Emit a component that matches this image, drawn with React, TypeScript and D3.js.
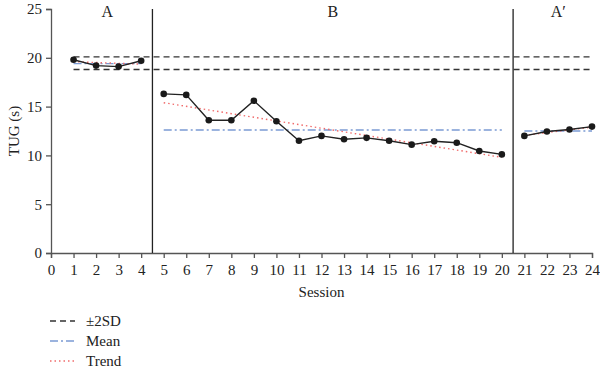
import React, { useEffect, useRef } from "react";
import * as d3 from "d3";

// session numbers and TUG times (s)
const sessions = [1, 2, 3, 4, 5, 6, 7, 8, 9, 10, 11, 12, 13, 14, 15, 16, 17, 18, 19, 20, 21, 22, 23, 24];
const tug = [19.8, 19.2, 19.1, 19.7, 16.3, 16.2, 13.6, 13.6, 15.6, 13.5, 11.5, 12.0, 11.65, 11.8, 11.5, 11.1, 11.45, 11.3, 10.45, 10.1, 12.0, 12.45, 12.65, 12.95];

// phases: label, first and last session
const phaseNames = ["A", "B", "A\u2032"];
const phaseStart = [1, 5, 21];
const phaseEnd = [4, 20, 24];
const phaseMean = [19.4, 12.6, 12.5];
const trendStart = [19.6, 15.4, 12.05];
const trendEnd = [19.35, 9.8, 12.9];

// baseline ±2SD band
const sdUpper = 20.1;
const sdLower = 18.8;

const xTicks = d3.range(0, 25);
const yTicks = [0, 5, 10, 15, 20, 25];

const legendLabels = ["\u00b12SD", "Mean", "Trend"];

const App = () => {
  const ref = useRef<SVGSVGElement>(null);

  useEffect(() => {
    const width = 600;
    const height = 374;
    const margin = { top: 9, right: 8, bottom: 121, left: 51 };
    const font = "'Liberation Serif', 'Times New Roman', serif";

    const svg = d3.select(ref.current);
    svg.selectAll("*").remove();

    const x = d3.scaleLinear().domain([0, 24]).range([margin.left, width - margin.right]);
    const y = d3.scaleLinear().domain([0, 25]).range([height - margin.bottom, margin.top]);

    const styles = {
      sd: { color: "#333", dash: "6,4", width: 1.3 },
      mean: { color: "#7b9bd3", dash: "8,3,2,3", width: 1.3 },
      trend: { color: "#f06b6b", dash: "1.5,3", width: 1.4 },
    };

    // axes
    const xAxis = svg.append("g")
      .attr("transform", `translate(0,${y(0)})`)
      .call(d3.axisBottom(x).tickValues(xTicks).tickSize(5).tickFormat(d3.format("d")));
    const yAxis = svg.append("g")
      .attr("transform", `translate(${x(0)},0)`)
      .call(d3.axisLeft(y).tickValues(yTicks).tickSize(5));
    [xAxis, yAxis].forEach(a => {
      a.select(".domain").attr("stroke", "#555").attr("stroke-width", 1.3);
      a.selectAll(".tick line").attr("stroke", "#555").attr("stroke-width", 1.3);
      a.selectAll(".tick text").attr("font-family", font).attr("font-size", 15).attr("fill", "#222");
    });
    xAxis.selectAll(".tick text").attr("dy", "0.95em");
    yAxis.selectAll(".tick text").attr("x", -9);

    // phase change lines
    [4.5, 20.5].forEach(v => {
      svg.append("line")
        .attr("x1", x(v)).attr("x2", x(v))
        .attr("y1", y(25)).attr("y2", y(0))
        .attr("stroke", "#222").attr("stroke-width", 1.3);
    });

    phaseNames.forEach((name, i) => {
      svg.append("text")
        .attr("x", x((phaseStart[i] + phaseEnd[i]) / 2))
        .attr("y", y(24.2))
        .attr("text-anchor", "middle")
        .attr("font-family", font).attr("font-size", 16).attr("fill", "#222")
        .text(name);
    });

    // ±2SD lines
    [sdUpper, sdLower].forEach(v => {
      svg.append("line")
        .attr("x1", x(1)).attr("x2", x(24))
        .attr("y1", y(v)).attr("y2", y(v))
        .attr("stroke", styles.sd.color).attr("stroke-width", styles.sd.width)
        .attr("stroke-dasharray", styles.sd.dash);
    });

    // phase means and trends
    phaseNames.forEach((_, i) => {
      svg.append("line")
        .attr("x1", x(phaseStart[i])).attr("x2", x(phaseEnd[i]))
        .attr("y1", y(phaseMean[i])).attr("y2", y(phaseMean[i]))
        .attr("stroke", styles.mean.color).attr("stroke-width", styles.mean.width)
        .attr("stroke-dasharray", styles.mean.dash);
      svg.append("line")
        .attr("x1", x(phaseStart[i])).attr("x2", x(phaseEnd[i]))
        .attr("y1", y(trendStart[i])).attr("y2", y(trendEnd[i]))
        .attr("stroke", styles.trend.color).attr("stroke-width", styles.trend.width)
        .attr("stroke-dasharray", styles.trend.dash);
    });

    // data series, broken at phase changes
    const line = d3.line<number>().x(d => x(d)).y(d => y(tug[d - 1]));
    phaseNames.forEach((_, i) => {
      const pts = sessions.filter(s => s >= phaseStart[i] && s <= phaseEnd[i]);
      svg.append("path")
        .attr("d", line(pts))
        .attr("fill", "none")
        .attr("stroke", "#222")
        .attr("stroke-width", 1.4);
    });
    svg.append("g")
      .selectAll("circle")
      .data(sessions)
      .enter().append("circle")
      .attr("cx", d => x(d))
      .attr("cy", d => y(tug[d - 1]))
      .attr("r", 3.3)
      .attr("fill", "#1a1a1a");

    // axis titles
    svg.append("text")
      .attr("x", (x(0) + x(24)) / 2)
      .attr("y", 297)
      .attr("text-anchor", "middle")
      .attr("font-family", font).attr("font-size", 15).attr("fill", "#222")
      .text("Session");
    svg.append("text")
      .attr("transform", `translate(19,${y(12.5)}) rotate(-90)`)
      .attr("text-anchor", "middle")
      .attr("font-family", font).attr("font-size", 15).attr("fill", "#222")
      .text("TUG (s)");

    // legend
    const legendStyles = [styles.sd, styles.mean, styles.trend];
    legendLabels.forEach((label, i) => {
      const ly = 321 + i * 20;
      svg.append("line")
        .attr("x1", 50).attr("x2", 75)
        .attr("y1", ly).attr("y2", ly)
        .attr("stroke", legendStyles[i].color).attr("stroke-width", legendStyles[i].width)
        .attr("stroke-dasharray", legendStyles[i].dash);
      svg.append("text")
        .attr("x", 86).attr("y", ly + 5)
        .attr("font-family", font).attr("font-size", 15).attr("fill", "#222")
        .text(label);
    });
  }, []);

  return (
    <svg ref={ref} width={600} height={374} style={{ position: "absolute", left: 0, top: 0, background: "#fff" }}></svg>
  );
};

export default App;
